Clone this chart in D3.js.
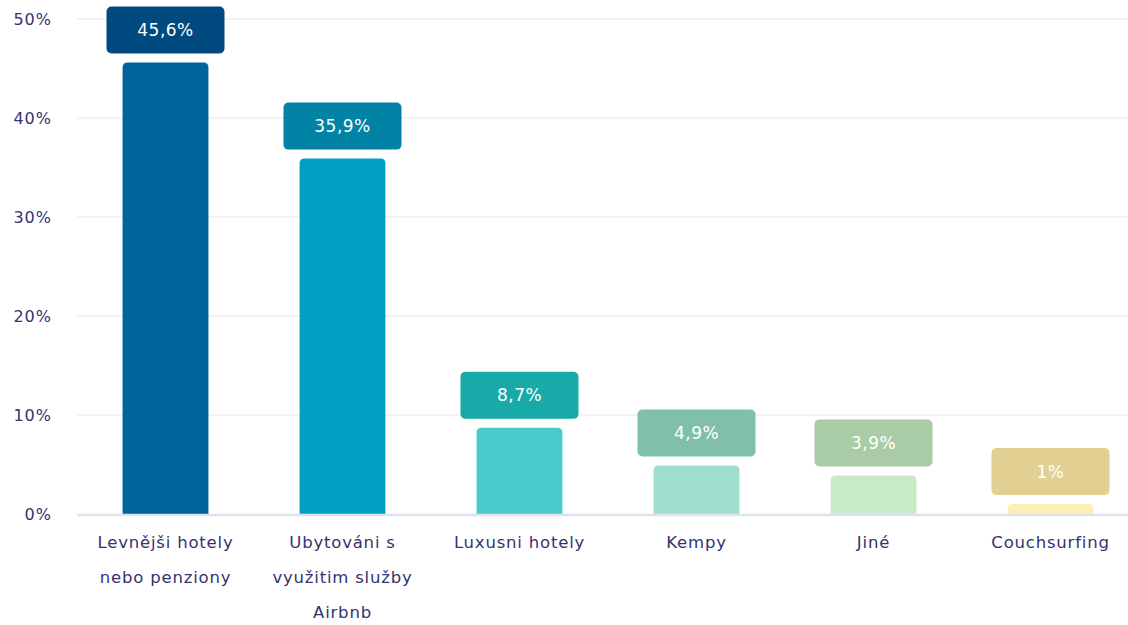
<!DOCTYPE html>
<html><head><meta charset="utf-8">
<script src="https://cdn.jsdelivr.net/npm/d3@7"></script>
<style>body{margin:0;background:#fff;}svg{display:block;font-family:"DejaVu Sans",sans-serif;}</style>
</head><body><svg id="c" width="1128" height="625"></svg>
<script>
const categories = [
  ["Levnějši hotely","nebo penziony"],
  ["Ubytováni s","využitim služby","Airbnb"],
  ["Luxusni hotely"],
  ["Kempy"],
  ["Jiné"],
  ["Couchsurfing"]
];
const values = [45.6, 35.9, 8.7, 4.9, 3.9, 1];
const valueLabels = ["45,6%","35,9%","8,7%","4,9%","3,9%","1%"];
const barColors = ["#00649c","#00a0c3","#49cacb","#9fdecc","#c8ebc5","#fdeeb3"];
const labelColors = ["#004a80","#0083a4","#18aaa9","#80c0ab","#a9cca7","#e2d093"];
const yTicks = [0,10,20,30,40,50];
const yTickLabels = ["0%","10%","20%","30%","40%","50%"];

const svg = d3.select("#c");
const x = d3.scaleBand().domain(d3.range(categories.length)).range([77,1139]).paddingInner(0.515).paddingOuter(0.2575);
const y = d3.scaleLinear().domain([0,50]).range([514,19]);

// grid
svg.append("g").selectAll("line").data(yTicks.filter(d=>d>0)).join("line")
  .attr("x1",77).attr("x2",1128).attr("y1",d=>y(d)).attr("y2",d=>y(d))
  .attr("stroke","#eeeff2").attr("stroke-width",1.5);

// y labels
svg.append("g").selectAll("text").data(yTicks).join("text")
  .attr("x",52).attr("y",d=>y(d)).attr("dy","0.35em").attr("text-anchor","end")
  .attr("fill","#33336f").attr("font-size",16).attr("letter-spacing",1).text((d,i)=>yTickLabels[i]);

// bars with rounded top
const r = 5;
svg.append("g").selectAll("path").data(values).join("path")
  .attr("fill",(d,i)=>barColors[i])
  .attr("d",(d,i)=>{
    const x0=x(i), w=x.bandwidth(), y0=y(d), yb=y(0);
    return `M${x0},${yb}V${y0+r}Q${x0},${y0} ${x0+r},${y0}H${x0+w-r}Q${x0+w},${y0} ${x0+w},${y0+r}V${yb}Z`;
  });

// baseline
svg.append("line").attr("x1",77).attr("x2",1128).attr("y1",y(0)+1).attr("y2",y(0)+1)
  .attr("stroke","#dfe1ec").attr("stroke-width",2.5);

// value label boxes
const bw=118, bh=47, gap=9;
const lg = svg.append("g").selectAll("g").data(values).join("g")
  .attr("transform",(d,i)=>`translate(${x(i)+x.bandwidth()/2},${y(d)-gap-bh})`);
lg.append("rect").attr("x",-bw/2).attr("y",0).attr("width",bw).attr("height",bh).attr("rx",5)
  .attr("fill",(d,i)=>labelColors[i]);
lg.append("text").attr("x",0).attr("y",bh/2).attr("dy","0.35em").attr("text-anchor","middle")
  .attr("fill","#fff").attr("font-size",17).attr("letter-spacing",0.5).text((d,i)=>valueLabels[i]);

// category labels
const cg = svg.append("g").selectAll("text").data(categories).join("text")
  .attr("text-anchor","middle").attr("fill","#33336f").attr("font-size",16.5).attr("letter-spacing",0.8);
cg.each(function(lines,i){
  d3.select(this).selectAll("tspan").data(lines).join("tspan")
    .attr("x",x(i)+x.bandwidth()/2).attr("y",(l,j)=>548+j*35).text(l=>l);
});
</script></body></html>
